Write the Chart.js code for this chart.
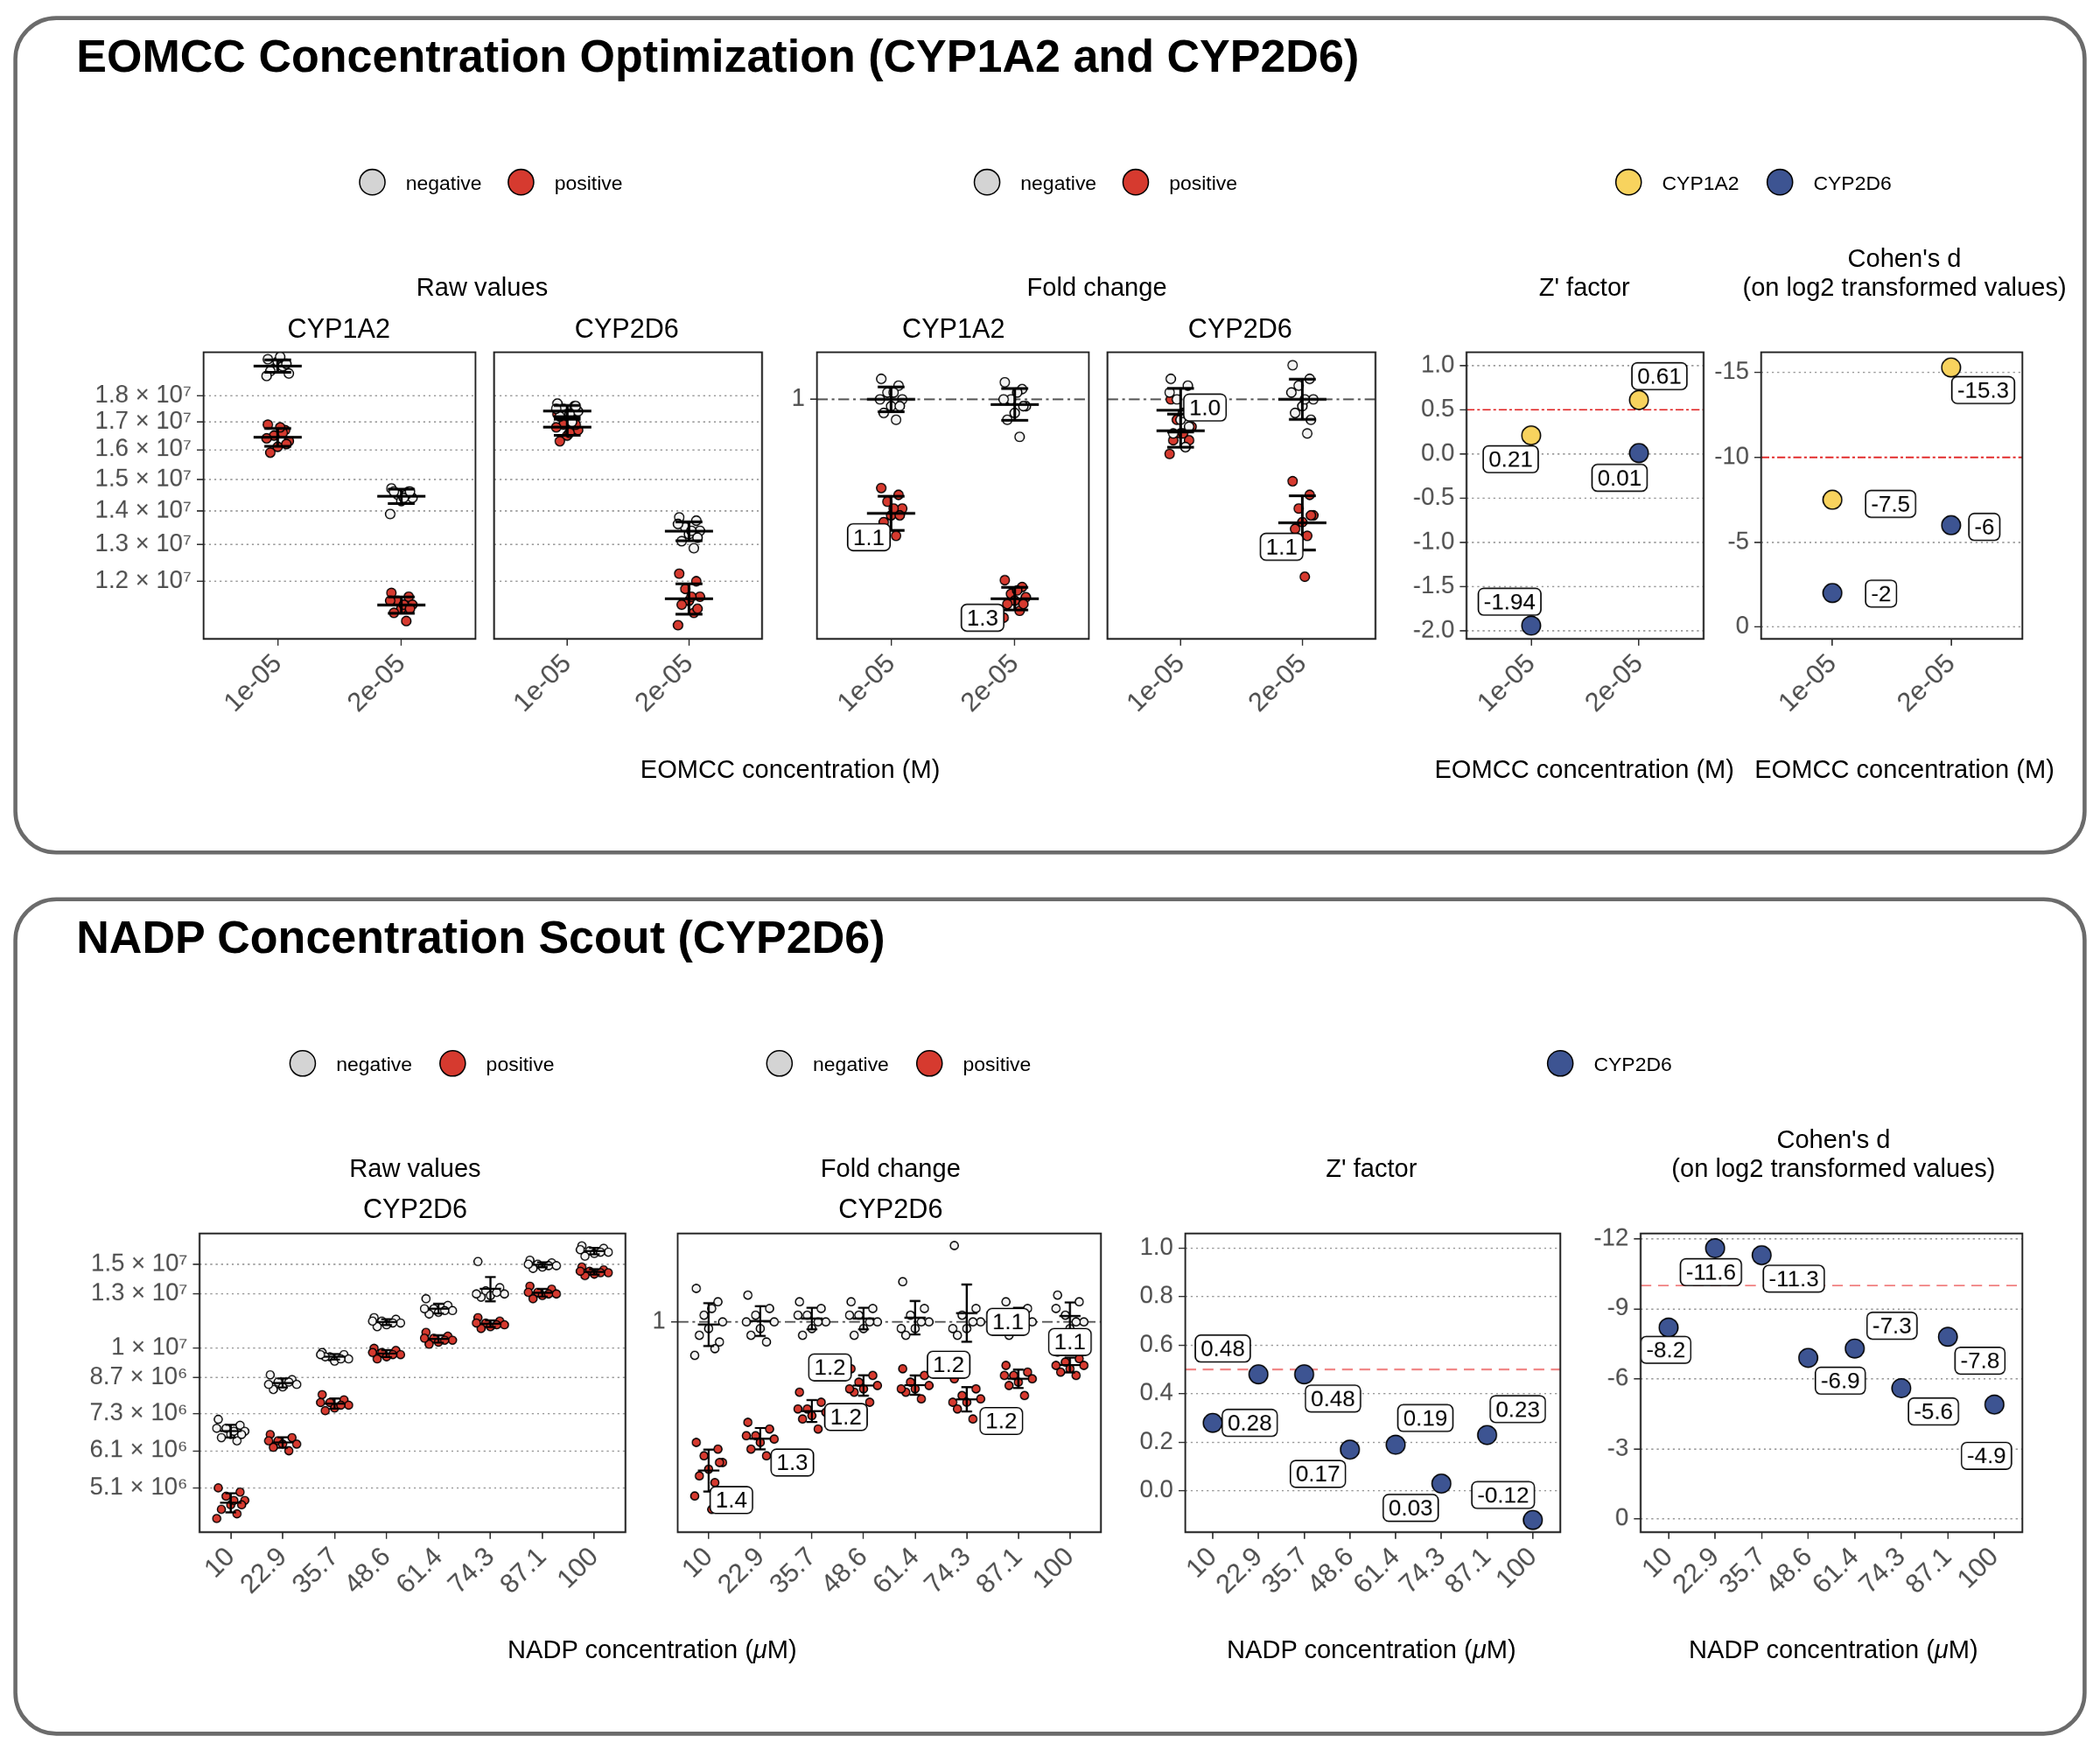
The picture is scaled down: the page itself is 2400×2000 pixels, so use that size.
<!DOCTYPE html>
<html><head><meta charset="utf-8">
<script src="https://cdn.jsdelivr.net/npm/chart.js@4"></script>
<style>
body{margin:0;background:#fff;width:2400px;height:2000px;overflow:hidden}
#wrap{position:absolute;left:0;top:0;width:1568px;height:1306px;transform-origin:0 0;font-family:"Liberation Sans",Arial,sans-serif;color:#000}
.box{position:absolute;border:3px solid #6b6b6b;border-radius:32px;box-sizing:border-box}
.t{position:absolute;white-space:nowrap;transform:translate(-50%,-50%);text-align:center}
.h{position:absolute;white-space:nowrap;transform:translateY(-50%);font-weight:bold;font-size:34px}
.dot{position:absolute;width:20px;height:20px;border-radius:50%;border:1.3px solid #000;box-sizing:border-box;transform:translate(-50%,-50%)}
.lg{position:absolute;font-size:15px;transform:translateY(-50%)}
</style></head>
<body><div id="wrap"></div>
<script>
// ---- top: EOMCC concentration ----
const eomccConc = ["1e-05", "2e-05"];
// raw values (x 1e6), [cyp][conc]
const rawA_neg = [[19.5,19.3,19.1,18.9,19.4,19.0,19.2,18.8,19.6,19.3],[14.7,14.6,14.5,14.4,14.3,14.6,14.5,13.9,14.4,14.6]];
const rawA_pos = [[16.9,16.7,16.5,16.3,16.1,15.9,16.6,16.4,16.8,16.2],[11.7,11.6,11.5,11.4,11.3,11.2,11.0,11.5,11.4,11.3]];
const rawD_neg = [[17.7,17.6,17.5,17.4,17.3,17.2,17.0,17.5,17.3,17.6],[13.8,13.7,13.5,13.4,13.3,13.1,12.9,13.6,13.4,13.2]];
const rawD_pos = [[17.3,17.1,16.9,16.7,16.5,16.3,17.0,16.8,16.6,16.9],[12.2,12.0,11.8,11.6,11.5,11.4,11.2,10.9,11.6,11.3]];
const foldA_neg = [[1.03,1.02,1.01,1.0,0.99,0.98,0.97,1.0,1.01,0.99],[1.025,1.015,1.0,0.99,0.98,0.97,0.945,1.0,1.01,0.99]];
const foldA_pos = [[0.87,0.86,0.85,0.84,0.83,0.82,0.80,0.79,0.84,0.83],[0.735,0.725,0.715,0.71,0.705,0.70,0.69,0.68,0.72,0.70]];
const foldD_neg = [[1.03,1.02,1.0,0.99,0.97,0.95,0.93,1.01,0.98,0.96],[1.05,1.03,1.02,1.0,0.99,0.98,0.95,1.01,1.0,0.97]];
const foldD_pos = [[1.0,0.98,0.97,0.96,0.95,0.94,0.93,0.92,0.95,0.94],[0.88,0.86,0.84,0.83,0.82,0.81,0.80,0.78,0.74,0.83]];
const foldA_text = ["1.1", "1.3"];
const foldD_text = ["1.0", "1.1"];
const zA = [0.21, 0.61];
const zD = [-1.94, 0.01];
const dA = [-7.5, -15.3];
const dD = [-2, -6];

// ---- bottom: NADP concentration ----
const nadpConc = ["10", "22.9", "35.7", "48.6", "61.4", "74.3", "87.1", "100"];
const rawN_neg = [
  [7.1,6.9,6.8,6.7,6.6,6.5,6.4,6.8,6.7,6.6],[8.8,8.6,8.5,8.4,8.3,8.2,8.5,8.4],[9.8,9.7,9.6,9.5,9.4,9.6,9.5,9.7],
  [11.6,11.5,11.4,11.3,11.2,11.1,11.3,11.4],[12.7,12.3,12.1,12.0,11.9,11.8,12.0,12.1],[15.2,13.4,13.2,13.0,12.9,12.8,13.1,13.0],
  [15.3,15.1,15.0,14.9,14.8,14.7,14.9,15.0],[16.4,16.2,16.0,15.9,15.8,15.6,15.9,16.1]];
const rawN_pos = [
  [5.1,5.0,4.9,4.8,4.7,4.6,4.5,4.4,4.8,4.7],[6.6,6.5,6.4,6.3,6.3,6.2,6.1,6.4],[8.0,7.8,7.7,7.6,7.5,7.4,7.6,7.7],
  [10.0,9.9,9.8,9.7,9.6,9.5,9.7,9.8],[10.8,10.6,10.5,10.4,10.3,10.2,10.4,10.5],[11.6,11.4,11.3,11.2,11.1,11.0,11.2,11.3],
  [13.5,13.3,13.1,13.0,12.9,12.7,13.0,13.1],[14.8,14.6,14.5,14.4,14.3,14.2,14.4,14.5]];
const foldN_neg = [
  [1.05,1.03,1.01,1.0,0.99,0.98,0.96,0.95,1.02,0.97],[1.04,1.02,1.01,1.0,0.99,0.98,0.97,1.0],[1.03,1.02,1.01,1.0,0.99,0.98,1.0,1.01],
  [1.03,1.02,1.01,1.0,0.99,0.98,1.0,1.01],[1.06,1.02,1.01,1.0,0.99,0.98,1.0,0.99],[1.114,1.02,1.01,1.0,0.99,0.98,1.0,0.99],
  [1.03,1.02,1.01,1.0,0.99,0.98,1.0,1.01],[1.04,1.03,1.01,1.0,0.99,0.98,1.0,1.02]];
const foldN_pos = [
  [0.82,0.81,0.80,0.79,0.78,0.77,0.76,0.74,0.72,0.79],[0.85,0.84,0.83,0.825,0.82,0.81,0.80,0.83],[0.895,0.88,0.87,0.865,0.86,0.855,0.84,0.87],
  [0.93,0.92,0.91,0.905,0.90,0.895,0.88,0.90],[0.93,0.92,0.91,0.905,0.90,0.895,0.885,0.90],[0.915,0.90,0.89,0.885,0.88,0.87,0.855,0.88],
  [0.935,0.925,0.92,0.915,0.91,0.905,0.89,0.92],[0.955,0.945,0.94,0.935,0.93,0.925,0.92,0.935]];
const foldN_text = ["1.4", "1.3", "1.2", "1.2", "1.2", "1.2", "1.1", "1.1"];
const zN = [0.28, 0.48, 0.48, 0.17, 0.19, 0.03, 0.23, -0.12];
const dN = [-8.2, -11.6, -11.3, -6.9, -7.3, -5.6, -7.8, -4.9];

// label anchor spots (layout only)
const foldA_spot = [[-0.18,0.798],[0.74,0.68]];
const foldD_spot = [[0.2,0.988],[0.83,0.784]];
const zTop_spot = [[-0.19,-0.06],[1.19,0.88],[-0.2,-1.67],[0.82,-0.27]];
const dTop_spot = [[0.49,-7.26],[1.27,-13.97],[0.41,-1.97],[1.28,-5.9]];
const foldN_spot = [[0.44,0.734],[1.62,0.79],[2.66,0.858],[2.35,0.932],[4.65,0.936],[5.67,0.852],[5.8,1.0],[7.0,0.97]];
const zN_spot = [[0.81,0.28],[0.22,0.586],[2.63,0.38],[2.3,0.07],[4.65,0.30],[4.33,-0.07],[6.67,0.337],[6.35,-0.017]];
const dN_spot = [[-0.06,-7.24],[0.91,-10.57],[2.69,-10.29],[3.69,-5.92],[4.8,-8.28],[5.69,-4.6],[6.69,-6.78],[6.83,-2.7]];
const jit = [-0.8,0.6,-0.3,0.9,0,-0.6,0.4,-0.9,0.2,0.7];

const NEG = "#f4f4f4", POS = "#d63a2f", YEL = "#f8d35e", BLU = "#3d5492";
const wrap = document.getElementById("wrap");
wrap.style.transform = "scale(" + (2400 / 1568) + ")";

function txt(s, cx, cy, size, extra) {
  const d = document.createElement("div");
  d.className = "t";
  d.style.cssText += `left:${cx}px;top:${cy}px;font-size:${size}px;${extra || ""}`;
  d.innerHTML = s;
  wrap.appendChild(d);
}
function heading(s, x, y) {
  const d = document.createElement("div");
  d.className = "h";
  d.style.cssText += `left:${x}px;top:${y}px`;
  d.textContent = s;
  wrap.appendChild(d);
}
function legend(items, y) {
  items.forEach(([x, col, name]) => {
    const d = document.createElement("div");
    d.className = "dot";
    d.style.cssText += `left:${x}px;top:${y}px;background:${col}`;
    wrap.appendChild(d);
    const l = document.createElement("div");
    l.className = "lg";
    l.style.cssText = `left:${x + 25}px;top:${y}px`;
    l.textContent = name;
    wrap.appendChild(l);
  });
}
function box(top) {
  const d = document.createElement("div");
  d.className = "box";
  d.style.cssText = `left:10px;top:${top}px;width:1548px;height:626px`;
  wrap.appendChild(d);
}

// extras: frame, reference lines, error bars, boxed labels
Chart.register({
  id: "extras",
  beforeDatasetsDraw(chart, args, o) {
    const ctx = chart.ctx, a = chart.chartArea, y = chart.scales.y;
    (o.refs || []).forEach(r => {
      const py = y.getPixelForValue(r.y);
      ctx.save();
      ctx.strokeStyle = r.color; ctx.lineWidth = 1.2; ctx.setLineDash(r.dash);
      ctx.beginPath(); ctx.moveTo(a.left, py); ctx.lineTo(a.right, py); ctx.stroke();
      ctx.restore();
    });
  },
  afterDatasetsDraw(chart, args, o) {
    const ctx = chart.ctx, a = chart.chartArea, x = chart.scales.x, y = chart.scales.y;
    ctx.save();
    (o.bars || []).forEach(b => {
      const m = b.vals.reduce((s, v) => s + v, 0) / b.vals.length;
      const sd = Math.sqrt(b.vals.reduce((s, v) => s + (v - m) * (v - m), 0) / (b.vals.length - 1));
      const px = x.getPixelForValue(b.x);
      const p0 = y.getPixelForValue(m), p1 = y.getPixelForValue(m + sd), p2 = y.getPixelForValue(m - sd);
      ctx.strokeStyle = "#000"; ctx.lineWidth = o.bw || 2;
      ctx.beginPath();
      ctx.moveTo(px, p1); ctx.lineTo(px, p2);
      ctx.moveTo(px - o.cap, p1); ctx.lineTo(px + o.cap, p1);
      ctx.moveTo(px - o.cap, p2); ctx.lineTo(px + o.cap, p2);
      ctx.moveTo(px - o.cross, p0); ctx.lineTo(px + o.cross, p0);
      ctx.stroke();
    });
    ctx.font = "17px 'Liberation Sans', Arial, sans-serif";
    ctx.textAlign = "center"; ctx.textBaseline = "middle";
    (o.labels || []).forEach(l => {
      const px = x.getPixelForValue(l.x), py = y.getPixelForValue(l.y);
      const w = ctx.measureText(l.t).width + 8, h = 20;
      ctx.beginPath();
      ctx.roundRect(px - w / 2, py - h / 2, w, h, 4);
      ctx.fillStyle = "#fff"; ctx.fill();
      ctx.strokeStyle = "#000"; ctx.lineWidth = 1; ctx.stroke();
      ctx.fillStyle = "#000"; ctx.fillText(l.t, px, py + 1);
    });
    ctx.strokeStyle = "#222"; ctx.lineWidth = 1.3;
    ctx.strokeRect(a.left, a.top, a.right - a.left, a.bottom - a.top);
    ctx.restore();
  }
});

function chart(plot, o) {
  const [L, T, W, H] = plot;
  const cw = o.yW + W + 10, ch = H + 8 + 70;
  const c = document.createElement("canvas");
  c.style.cssText = `position:absolute;left:${L - o.yW - 2}px;top:${T - 8}px;width:${cw}px;height:${ch}px`;
  c.width = cw; c.height = ch;
  wrap.appendChild(c);
  new Chart(c, {
    type: "scatter",
    data: { datasets: o.sets },
    options: {
      responsive: false, animation: false, devicePixelRatio: 2,
      layout: { padding: { left: 2, top: 8, right: 8, bottom: 0 } },
      plugins: { legend: { display: false }, tooltip: { enabled: false }, extras: o.extras },
      scales: {
        x: {
          type: "linear", min: -0.6, max: o.xl.length - 0.4,
          afterBuildTicks: s => { s.ticks = o.xl.map((_, i) => ({ value: i })); },
          afterFit: s => { s.height = 70; s.paddingLeft = 0; s.paddingRight = 0; },
          ticks: { callback: v => o.xl[v], maxRotation: 45, minRotation: 45, autoSkip: false, color: "#4d4d4d", font: { size: 20, family: "'Liberation Sans', Arial" }, padding: 2 },
          grid: { drawOnChartArea: false, tickLength: 5, color: "#333" },
          border: { display: false }
        },
        y: {
          type: o.yType || "linear", min: o.ymin, max: o.ymax, reverse: !!o.rev,
          afterBuildTicks: s => { s.ticks = o.yt.map(v => ({ value: v })); },
          afterFit: s => { s.width = o.yW; s.paddingTop = 0; s.paddingBottom = 0; },
          ticks: { display: o.yW > 0, callback: o.yf || (v => v), color: "#4d4d4d", font: { size: 18, family: "'Liberation Sans', Arial" }, padding: 4, autoSkip: false },
          grid: { color: o.grid ? "#9a9a9a" : "rgba(0,0,0,0)", tickColor: o.yW > 0 ? "#333" : "rgba(0,0,0,0)", tickLength: 5 },
          border: { display: false, dash: [1.5, 2.5] }
        }
      }
    }
  });
}

function cloud(groups, col, jw, r, scale) {
  const pts = [];
  groups.forEach((g, i) => g.forEach((v, k) => pts.push({ x: i + jit[k % jit.length] * jw, y: v * scale })));
  return { data: pts, pointRadius: r, backgroundColor: col, borderColor: "#000", borderWidth: 0.9 };
}
function bars(neg, pos, scale) {
  const out = [];
  neg.forEach((g, i) => out.push({ x: i, vals: g.map(v => v * scale) }));
  pos.forEach((g, i) => out.push({ x: i, vals: g.map(v => v * scale) }));
  return out;
}
function marks(vals, col) {
  return { data: vals.map((v, i) => ({ x: i, y: v })), pointRadius: 7, backgroundColor: col, borderColor: "#000", borderWidth: 1 };
}
function boxed(texts, spots) {
  return texts.map((t, i) => ({ t: t, x: spots[i][0], y: spots[i][1] }));
}
const sci = v => {
  const e = Math.floor(Math.log10(v) + 1e-9), m = +(v / Math.pow(10, e)).toFixed(1);
  return m + " \u00d7 10" + "\u2070\u00b9\u00b2\u00b3\u2074\u2075\u2076\u2077\u2078\u2079"[e];
};

// ----- layout -----
box(12); box(670);
heading("EOMCC Concentration Optimization (CYP1A2 and CYP2D6)", 57, 42);
heading("NADP Concentration Scout (CYP2D6)", 57, 700);

legend([[278, "#d4d4d4", "negative"], [389, POS, "positive"]], 136);
legend([[737, "#d4d4d4", "negative"], [848, POS, "positive"]], 136);
legend([[1216, YEL, "CYP1A2"], [1329, BLU, "CYP2D6"]], 136);
legend([[226, "#d4d4d4", "negative"], [338, POS, "positive"]], 794);
legend([[582, "#d4d4d4", "negative"], [694, POS, "positive"]], 794);
legend([[1165, BLU, "CYP2D6"]], 794);

txt("Raw values", 360, 215, 19); txt("Fold change", 819, 215, 19);
txt("Z' factor", 1183, 215, 19);
txt("Cohen's d<br>(on log2 transformed values)", 1422, 204, 19, "line-height:22px");
txt("CYP1A2", 253, 246, 20); txt("CYP2D6", 468, 246, 20);
txt("CYP1A2", 712, 246, 20); txt("CYP2D6", 926, 246, 20);
txt("EOMCC concentration (M)", 590, 575, 19);
txt("EOMCC concentration (M)", 1183, 575, 19);
txt("EOMCC concentration (M)", 1422, 575, 19);

txt("Raw values", 310, 873, 19); txt("CYP2D6", 310, 903, 20);
txt("Fold change", 665, 873, 19); txt("CYP2D6", 665, 903, 20);
txt("Z' factor", 1024, 873, 19);
txt("Cohen's d<br>(on log2 transformed values)", 1369, 862, 19, "line-height:22px");
txt("NADP concentration (<i>\u03bc</i>M)", 487, 1232, 19);
txt("NADP concentration (<i>\u03bc</i>M)", 1024, 1232, 19);
txt("NADP concentration (<i>\u03bc</i>M)", 1369, 1232, 19);

const E6 = 1e6;
const rawTicksTop = [1.2e7, 1.3e7, 1.4e7, 1.5e7, 1.6e7, 1.7e7, 1.8e7];
const rawTop = (neg, pos, plot, yW) => chart(plot, {
  xl: eomccConc, yType: "logarithmic", ymin: 1.058e7, ymax: 1.98e7, yt: rawTicksTop, yf: sci, yW: yW, grid: true,
  sets: [cloud(neg, NEG, 0.1, 3.5, E6), cloud(pos, POS, 0.1, 3.5, E6)],
  extras: { bars: bars(neg, pos, E6), cap: 10, cross: 18, bw: 2 }
});
rawTop(rawA_neg, rawA_pos, [152, 263, 203, 214], 100);
rawTop(rawD_neg, rawD_pos, [366, 263, 203, 214], 0);

const foldRef = [{ y: 1, color: "#555", dash: [8, 3, 2, 3] }];
const foldTop = (neg, pos, texts, spots, plot, yW) => chart(plot, {
  xl: eomccConc, ymin: 0.649, ymax: 1.069, yt: [1], yW: yW,
  sets: [cloud(neg, NEG, 0.1, 3.5, 1), cloud(pos, POS, 0.1, 3.5, 1)],
  extras: { refs: foldRef, bars: bars(neg, pos, 1), cap: 10, cross: 18, bw: 2, labels: boxed(texts, spots) }
});
foldTop(foldA_neg, foldA_pos, foldA_text, foldA_spot, [610, 263, 203, 214], 22);
foldTop(foldD_neg, foldD_pos, foldD_text, foldD_spot, [824, 263, 203, 214], 0);

chart([1095, 263, 177, 214], {
  xl: eomccConc, ymin: -2.09, ymax: 1.15, yt: [-2, -1.5, -1, -0.5, 0, 0.5, 1], yf: v => v.toFixed(1), yW: 55, grid: true,
  sets: [marks(zA, YEL), marks(zD, BLU)],
  extras: { refs: [{ y: 0.5, color: "#e02020", dash: [6, 2, 2, 2] }],
    labels: boxed(zA.concat(zD).map(String), zTop_spot) }
});
chart([1315, 263, 195, 214], {
  xl: eomccConc, ymin: -16.2, ymax: 0.7, rev: true, yt: [-15, -10, -5, 0], yW: 45, grid: true,
  sets: [marks(dA, YEL), marks(dD, BLU)],
  extras: { refs: [{ y: -10, color: "#e02020", dash: [6, 2, 2, 2] }],
    labels: boxed(dA.concat(dD).map(String), dTop_spot) }
});

chart([149, 921, 318, 223], {
  xl: nadpConc, yType: "logarithmic", ymin: 4.12e6, ymax: 1.74e7,
  yt: [5.1e6, 6.1e6, 7.3e6, 8.7e6, 1e7, 1.3e7, 1.5e7], yf: sci, yW: 100, grid: true,
  sets: [cloud(rawN_neg, NEG, 0.3, 3, E6), cloud(rawN_pos, POS, 0.3, 3, E6)],
  extras: { bars: bars(rawN_neg, rawN_pos, E6), cap: 4, cross: 8, bw: 1.5 }
});
chart([506, 921, 316, 223], {
  xl: nadpConc, ymin: 0.686, ymax: 1.132, yt: [1], yW: 22,
  sets: [cloud(foldN_neg, NEG, 0.3, 3, 1), cloud(foldN_pos, POS, 0.3, 3, 1)],
  extras: { refs: foldRef, bars: bars(foldN_neg, foldN_pos, 1), cap: 4, cross: 8, bw: 1.5, labels: boxed(foldN_text, foldN_spot) }
});
chart([885, 921, 280, 223], {
  xl: nadpConc, ymin: -0.17, ymax: 1.06, yt: [0, 0.2, 0.4, 0.6, 0.8, 1], yf: v => v.toFixed(1), yW: 50, grid: true,
  sets: [marks(zN, BLU)],
  extras: { refs: [{ y: 0.5, color: "#f07a7a", dash: [8, 5] }], labels: boxed(zN.map(String), zN_spot) }
});
chart([1225, 921, 285, 223], {
  xl: nadpConc, ymin: -12.23, ymax: 0.57, rev: true, yt: [-12, -9, -6, -3, 0], yW: 45, grid: true,
  sets: [marks(dN, BLU)],
  extras: { refs: [{ y: -10, color: "#f07a7a", dash: [8, 5] }], labels: boxed(dN.map(String), dN_spot) }
});
</script></body></html>
